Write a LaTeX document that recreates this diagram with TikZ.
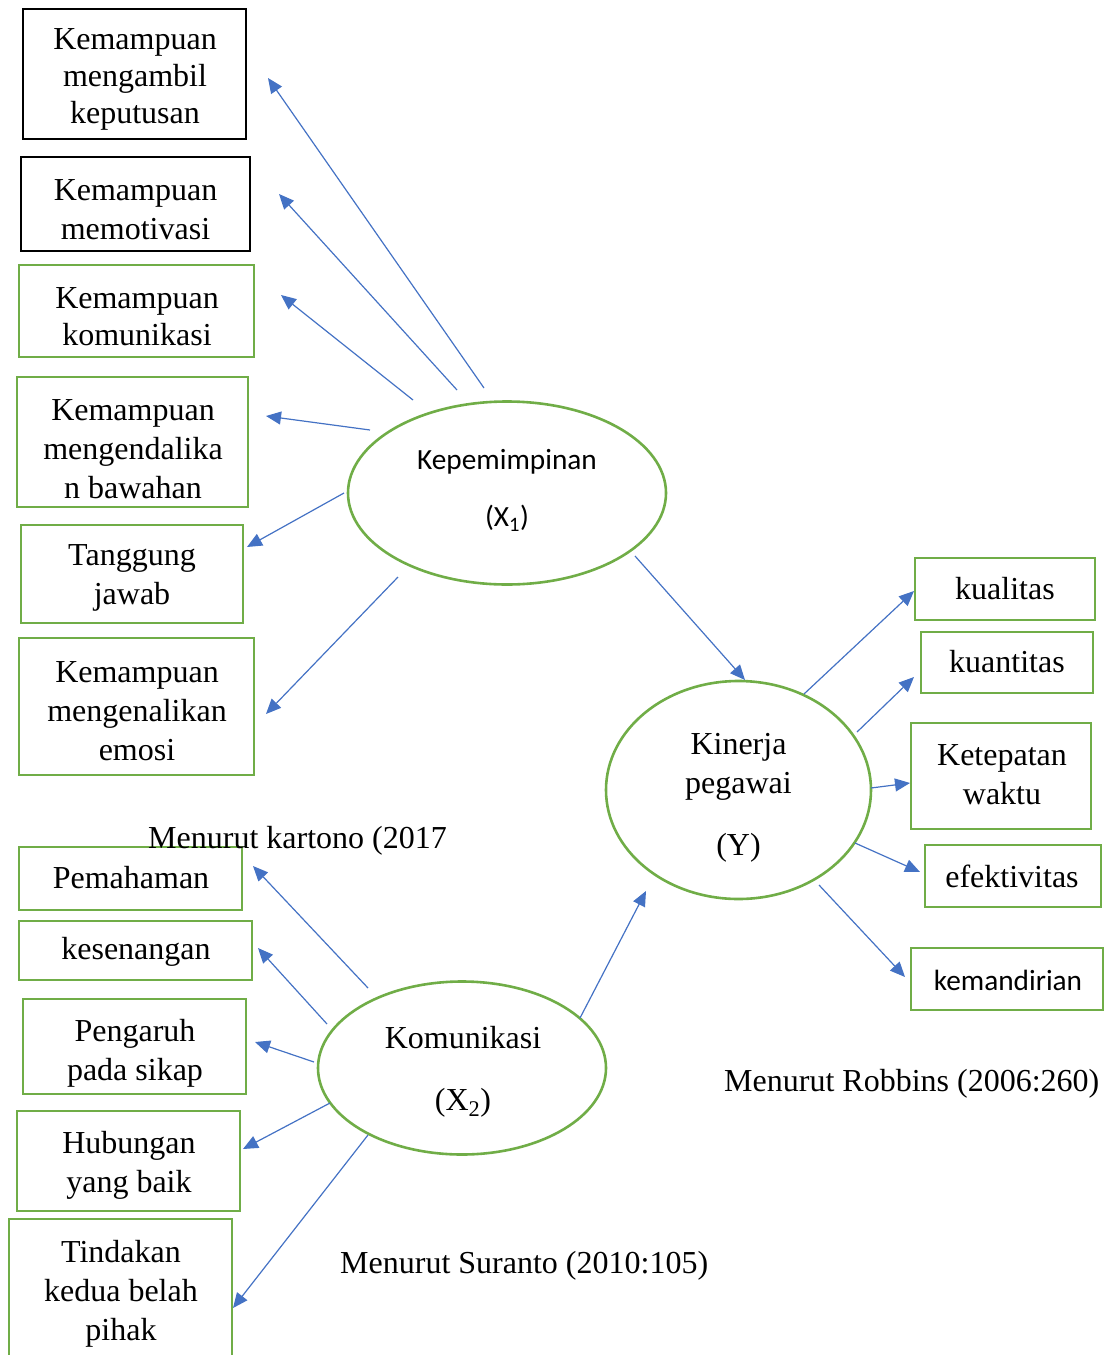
\documentclass[tikz,border=0pt]{standalone}
\usepackage{fontspec}
\setmainfont{Liberation Serif}
\newfontfamily\calib{Carlito}
\usetikzlibrary{shapes.geometric,arrows.meta}
\definecolor{grn}{HTML}{70AD47}
\definecolor{blu}{HTML}{4472C4}
\tikzset{
  txt/.style={font=\fontsize{32}{39}\selectfont, align=center, inner sep=0pt},
  txtn/.style={font=\fontsize{32}{37}\selectfont, align=center, inner sep=0pt},
  ctxt/.style={font=\calib\fontsize{29.3}{34}\selectfont, align=center, inner sep=0pt},
  gbox/.style={draw=grn, line width=2.6pt, rectangle, inner sep=0pt},
  kbox/.style={draw=black, line width=2.8pt, rectangle, inner sep=0pt},
  oval/.style={draw=grn, line width=2.6pt, ellipse, inner sep=0pt},
  arr/.style={draw=blu, line width=1.2pt, -{Triangle[length=15pt,width=13pt]}},
  lbl/.style={font=\fontsize{32}{39}\selectfont, anchor=west, inner sep=0pt}
}
\begin{document}
\begin{tikzpicture}[x=1pt,y=-1pt]
\useasboundingbox (0,0) rectangle (1104,1355);
\clip (0,0) rectangle (1104,1355);
% left top boxes
\node[kbox, minimum width=223pt, minimum height=130pt] (bA) at (134.5,74) {};
\node[kbox, minimum width=229pt, minimum height=94pt] (bB) at (135.5,204) {};
\node[gbox, minimum width=235pt, minimum height=92pt] (bC) at (136.5,311) {};
\node[gbox, minimum width=231pt, minimum height=130pt] (bD) at (132.5,442) {};
\node[gbox, minimum width=222pt, minimum height=98pt] (bE) at (132,574) {};
\node[gbox, minimum width=235pt, minimum height=137pt] (bF) at (136.5,706.5) {};
\node[txtn] (tA) at (135,79.5) {Kemampuan\\mengambil\\keputusan};
\node[txt] (tB) at (135.5,209.5) {Kemampuan\\memotivasi};
\node[txtn] (tC) at (137,316.5) {Kemampuan\\komunikasi};
\node[txt] (tD) at (133,449) {Kemampuan\\mengendalika\\n bawahan};
\node[txt] (tE) at (132,578) {Tanggung\\jawab};
\node[txt] (tF) at (137,711) {Kemampuan\\mengenalikan\\emosi};
% ellipses
\node[oval, minimum width=318pt, minimum height=183pt] (x1) at (507,493) {};
\node[oval, minimum width=265pt, minimum height=218pt] (y) at (738.5,790) {};
\node[oval, minimum width=288pt, minimum height=173pt] (x2) at (462,1068) {};
\node[ctxt] (tx1) at (507,490.5) {Kepemimpinan\\[23pt](X\textsubscript{1})};
\node[txt] (ty) at (738.5,798) {Kinerja\\pegawai\\[23pt](Y)};
\node[txt] (tx2) at (463,1072) {Komunikasi\\[23pt](X\textsubscript{2})};
% right boxes
\node[gbox, minimum width=180pt, minimum height=62pt] (r1) at (1005,589) {};
\node[gbox, minimum width=172pt, minimum height=61pt] (r2) at (1007,662.5) {};
\node[gbox, minimum width=180pt, minimum height=106pt] (r3) at (1001,776) {};
\node[gbox, minimum width=176pt, minimum height=62pt] (r4) at (1013,876) {};
\node[gbox, minimum width=192pt, minimum height=62pt] (r5) at (1007,979) {};
\node[txt] (tr1) at (1005,589) {kualitas};
\node[txt] (tr2) at (1007,662) {kuantitas};
\node[txt] (tr3) at (1002,774.5) {Ketepatan\\waktu};
\node[txt] (tr4) at (1012,876) {efektivitas};
\node[ctxt] (tr5) at (1008,980) {kemandirian};
% lower left boxes
\node[gbox, minimum width=223pt, minimum height=63pt] (c1) at (130.5,878.5) {};
\node[gbox, minimum width=233pt, minimum height=59pt] (c2) at (135.5,950.5) {};
\node[gbox, minimum width=223pt, minimum height=95pt] (c3) at (134.5,1046.5) {};
\node[gbox, minimum width=223pt, minimum height=100pt] (c4) at (128.5,1161) {};
\node[gbox, minimum width=223pt, minimum height=142pt] (c5) at (120.5,1290) {};
\node[txt] (tc1) at (131,878) {Pemahaman};
\node[txt] (tc2) at (136,952) {kesenangan};
\node[txt] (tc3) at (135,1053) {Pengaruh\\pada sikap};
\node[txt] (tc4) at (129,1165) {Hubungan\\yang baik};
\node[txt] (tc5) at (121,1294) {Tindakan\\kedua belah\\pihak};
% labels
\node[lbl] (l1) at (148,841) {Menurut kartono (2017};
\node[lbl] (l2) at (724,1084) {Menurut Robbins (2006:260)};
\node[lbl] (l3) at (340,1266) {Menurut Suranto (2010:105)};
% arrows from X1
\draw[arr] ([shift={(-23,-105)}]x1.center) -- ([shift={(133.5,4)}]bA.center);
\draw[arr] ([shift={(-50,-103)}]x1.center) -- ([shift={(143.5,-10)}]bB.center);
\draw[arr] ([shift={(-94,-93)}]x1.center) -- ([shift={(144.5,-16)}]bC.center);
\draw[arr] ([shift={(-137,-63)}]x1.center) -- ([shift={(133.5,-26)}]bD.center);
\draw[arr] ([shift={(-163,0)}]x1.center) -- ([shift={(115,-27)}]bE.center);
\draw[arr] ([shift={(-109,84)}]x1.center) -- ([shift={(129.5,7.5)}]bF.center);
\draw[arr] ([shift={(128,63)}]x1.center) -- ([shift={(6.5,-110)}]y.center);
% arrows from Y
\draw[arr] ([shift={(65.5,-96)}]y.center) -- ([shift={(-91,2)}]r1.center);
\draw[arr] ([shift={(118.5,-58)}]y.center) -- ([shift={(-93,14.5)}]r2.center);
\draw[arr] ([shift={(132.5,-2)}]y.center) -- ([shift={(-91,7)}]r3.center);
\draw[arr] ([shift={(116.5,53)}]y.center) -- ([shift={(-93,-4)}]r4.center);
\draw[arr] ([shift={(80.5,95)}]y.center) -- ([shift={(-102,-2)}]r5.center);
% arrows from X2
\draw[arr] ([shift={(-94,-80)}]x2.center) -- ([shift={(122.5,-12.5)}]c1.center);
\draw[arr] ([shift={(-135,-44)}]x2.center) -- ([shift={(122.5,-2.5)}]c2.center);
\draw[arr] ([shift={(-148,-6)}]x2.center) -- ([shift={(120.5,-4.5)}]c3.center);
\draw[arr] ([shift={(-132,35)}]x2.center) -- ([shift={(114.5,-12)}]c4.center);
\draw[arr] ([shift={(-94,67)}]x2.center) -- ([shift={(112.5,18)}]c5.center);
\draw[arr] ([shift={(118,-50)}]x2.center) -- ([shift={(-92.5,101)}]y.center);
\end{tikzpicture}
\end{document}
